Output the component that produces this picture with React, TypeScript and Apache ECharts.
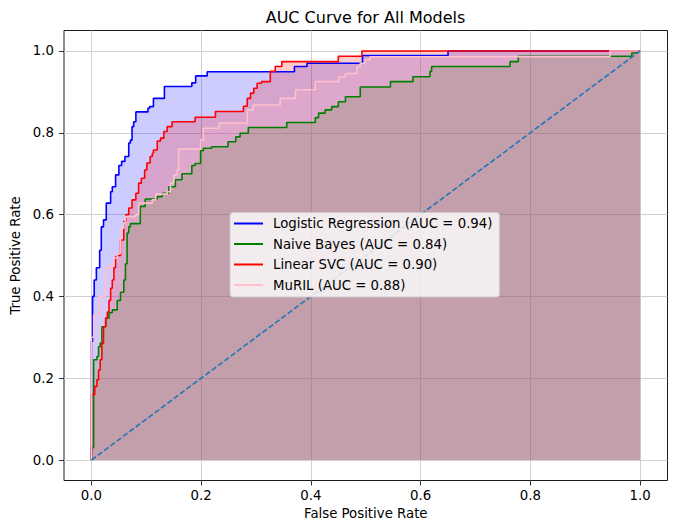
import React, { useEffect, useRef } from 'react';
import * as echarts from 'echarts';

const modelNames = [
  'Logistic Regression (AUC = 0.94)',
  'Naive Bayes (AUC = 0.84)',
  'Linear SVC (AUC = 0.90)',
  'MuRIL (AUC = 0.88)',
];

// ROC curve corner points: [false positive rate, true positive rate]
const lrRoc: [number, number][] = [
  [0, 0], [0, 0.29], [0.002, 0.40], [0.005, 0.44], [0.009, 0.47], [0.015, 0.513], [0.018, 0.57],
  [0.022, 0.587], [0.027, 0.628], [0.035, 0.656], [0.038, 0.668], [0.044, 0.697], [0.05, 0.72],
  [0.055, 0.73], [0.061, 0.742], [0.068, 0.775], [0.071, 0.782], [0.074, 0.815], [0.077, 0.827],
  [0.081, 0.851], [0.103, 0.86], [0.106, 0.864], [0.113, 0.884], [0.133, 0.913], [0.183, 0.922],
  [0.19, 0.939], [0.211, 0.949], [0.37, 0.962], [0.393, 0.97], [0.494, 0.989], [0.65, 1.0], [1.0, 1.0],
];

const nbRoc: [number, number][] = [
  [0, 0], [0, 0.03], [0.004, 0.245], [0.01, 0.253], [0.013, 0.277], [0.016, 0.286], [0.019, 0.326],
  [0.026, 0.347], [0.032, 0.36], [0.038, 0.367], [0.047, 0.39], [0.053, 0.41], [0.059, 0.44],
  [0.062, 0.48], [0.065, 0.555], [0.068, 0.57], [0.071, 0.578], [0.089, 0.62], [0.098, 0.638],
  [0.12, 0.644], [0.129, 0.652], [0.141, 0.668], [0.153, 0.685], [0.165, 0.70], [0.183, 0.72],
  [0.189, 0.725], [0.199, 0.756], [0.204, 0.762], [0.219, 0.766], [0.249, 0.778], [0.263, 0.79],
  [0.271, 0.799], [0.286, 0.813], [0.356, 0.825], [0.408, 0.837], [0.414, 0.848], [0.426, 0.856],
  [0.438, 0.864], [0.45, 0.876], [0.463, 0.888], [0.49, 0.912], [0.545, 0.925], [0.586, 0.937],
  [0.617, 0.95], [0.62, 0.962], [0.763, 0.974], [0.778, 0.987], [0.985, 0.995], [0.993, 1.0], [1.0, 1.0],
];

const svcRoc: [number, number][] = [
  [0, 0], [0, 0.16], [0.006, 0.18], [0.01, 0.196], [0.013, 0.22], [0.016, 0.245], [0.019, 0.285],
  [0.022, 0.326], [0.026, 0.347], [0.029, 0.362], [0.032, 0.39], [0.035, 0.42], [0.038, 0.44],
  [0.041, 0.47], [0.044, 0.497], [0.047, 0.50], [0.053, 0.538], [0.059, 0.583], [0.063, 0.60],
  [0.068, 0.616], [0.074, 0.636], [0.081, 0.652], [0.086, 0.677], [0.091, 0.689], [0.097, 0.709],
  [0.101, 0.726], [0.107, 0.742], [0.111, 0.75], [0.113, 0.758], [0.12, 0.78], [0.126, 0.787],
  [0.132, 0.803], [0.138, 0.815], [0.147, 0.827], [0.189, 0.838], [0.226, 0.852], [0.277, 0.865],
  [0.284, 0.884], [0.29, 0.897], [0.296, 0.909], [0.302, 0.921], [0.31, 0.925], [0.326, 0.95],
  [0.335, 0.962], [0.347, 0.974], [0.45, 0.987], [0.493, 1.0], [1.0, 1.0],
];

const murilRoc: [number, number][] = [
  [0, 0], [0, 0.30], [0.004, 0.355], [0.013, 0.40], [0.025, 0.47], [0.035, 0.477], [0.041, 0.494],
  [0.047, 0.505], [0.053, 0.567], [0.059, 0.58], [0.062, 0.595], [0.08, 0.60], [0.086, 0.628],
  [0.111, 0.636], [0.117, 0.65], [0.138, 0.656], [0.144, 0.677], [0.15, 0.697], [0.156, 0.709],
  [0.159, 0.76], [0.199, 0.782], [0.204, 0.811], [0.233, 0.824], [0.284, 0.856], [0.295, 0.868],
  [0.344, 0.884], [0.372, 0.905], [0.408, 0.925], [0.451, 0.937], [0.463, 0.945], [0.484, 0.962],
  [0.49, 0.97], [0.499, 0.978], [0.508, 0.986], [0.945, 1.0], [1.0, 1.0],
];

const chanceLine: [number, number][] = [[0, 0], [1, 1]];

const tickValues = [0, 0.2, 0.4, 0.6, 0.8, 1.0];

const modelColors = ['#0000ff', '#008000', '#ff0000', '#ffc0cb'];
const FONT = 'DejaVu Sans';

export default function App() {
  const ref = useRef<HTMLDivElement>(null);

  useEffect(() => {
    if (!ref.current) return;
    const chart = echarts.init(ref.current, undefined, { renderer: 'svg' });

    const curves = [lrRoc, nbRoc, svcRoc, murilRoc].map((pts, i) => ({
      type: 'line',
      name: modelNames[i],
      data: pts,
      step: 'end',
      symbol: 'none',
      showSymbol: false,
      silent: true,
      lineStyle: { color: modelColors[i], width: 1.6 },
      itemStyle: { color: modelColors[i] },
      areaStyle: { color: modelColors[i], opacity: 0.2 },
      z: 2,
    }));

    const axisCommon = {
      type: 'value',
      min: -0.05,
      max: 1.05,
      axisLine: { show: false, onZero: false },
      axisTick: {
        show: true,
        customValues: tickValues,
        length: 5,
        lineStyle: { color: '#000', width: 0.8 },
      },
      splitLine: { show: true, lineStyle: { color: '#d0d0d0', width: 1 } },
      nameLocation: 'middle',
      nameTextStyle: { fontFamily: FONT, fontSize: 13.3, color: '#000' },
    };

    chart.setOption({
      animation: false,
      backgroundColor: '#ffffff',
      grid: {
        left: 64,
        right: 7.5,
        top: 30.5,
        bottom: 40.5,
        show: true,
        borderColor: '#000',
        borderWidth: 0.9,
        backgroundColor: 'transparent',
        containLabel: false,
        outerBoundsMode: 'none',
      },
      graphic: [
        {
          type: 'text',
          x: 365.5,
          y: 17.5,
          style: {
            text: 'AUC Curve for All Models',
            font: `16px "${FONT}"`,
            fill: '#000',
            align: 'center',
            verticalAlign: 'middle',
            textAlign: 'center',
            textVerticalAlign: 'middle',
          },
        },
      ],
      legend: {
        data: modelNames.map((n) => ({ name: n, icon: 'rect' })),
        orient: 'vertical',
        left: 230,
        top: 212.5,
        itemWidth: 29,
        itemHeight: 2,
        itemGap: 6.5,
        padding: [4, 7, 5, 4],
        backgroundColor: 'rgba(255,255,255,0.8)',
        borderColor: '#cccccc',
        borderWidth: 1,
        borderRadius: 3,
        selectedMode: false,
        textStyle: {
          fontFamily: FONT,
          fontSize: 13.3,
          lineHeight: 14,
          color: '#000',
          padding: [0, 0, 0, 5],
        },
      },
      xAxis: {
        ...axisCommon,
        name: 'False Positive Rate',
        nameGap: 26,
        axisLabel: {
          customValues: tickValues,
          formatter: (v: number) => v.toFixed(1),
          margin: 8,
          fontFamily: FONT,
          fontSize: 13.3,
          color: '#000',
        },
      },
      yAxis: {
        ...axisCommon,
        name: 'True Positive Rate',
        nameGap: 38,
        axisLabel: {
          customValues: tickValues,
          formatter: (v: number) => v.toFixed(1),
          margin: 10,
          fontFamily: FONT,
          fontSize: 13.3,
          color: '#000',
        },
      },
      series: [
        ...curves,
        {
          type: 'line',
          name: 'Chance',
          data: chanceLine,
          symbol: 'none',
          showSymbol: false,
          silent: true,
          lineStyle: { color: '#1f77b4', width: 1.6, type: [5.5, 2.4] },
          z: 3,
        },
      ],
    });

    return () => chart.dispose();
  }, []);

  return <div ref={ref} style={{ width: 675, height: 521, position: 'absolute', left: 0, top: 0 }} />;
}
